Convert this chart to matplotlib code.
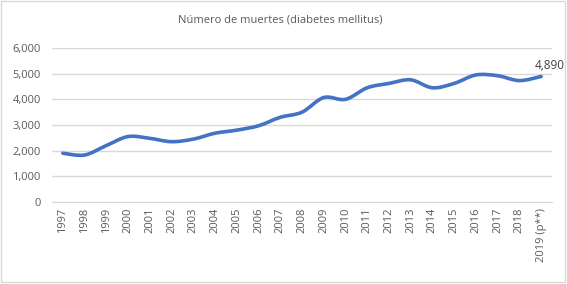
import matplotlib
matplotlib.use("Agg")
import matplotlib.pyplot as plt
import numpy as np
from matplotlib.path import Path
from matplotlib.patches import PathPatch, Rectangle

years = ["1997", "1998", "1999", "2000", "2001", "2002", "2003", "2004", "2005",
         "2006", "2007", "2008", "2009", "2010", "2011", "2012", "2013", "2014",
         "2015", "2016", "2017", "2018", "2019 (p**)"]
deaths = [1900, 1830, 2200, 2550, 2480, 2350, 2450, 2680, 2800, 2970, 3300, 3500,
          4070, 4000, 4450, 4620, 4760, 4450, 4620, 4950, 4920, 4730, 4890]
yticks = [0, 1000, 2000, 3000, 4000, 5000, 6000]
title = "Número de muertes (diabetes mellitus)"
last_label = "4,890"

plt.rcParams['font.family'] = ['Open Sans', 'DejaVu Sans']
fig = plt.figure(figsize=(5.67, 2.84), dpi=100)
ax = fig.add_axes([52/567, 1-202/284, (552-52)/567, (202-48)/284])

x = np.arange(len(years))
y = np.array(deaths, dtype=float)

# Smoothed line (Excel-style Bezier through points)
t = 1/6
verts = [(x[0], y[0])]
codes = [Path.MOVETO]
n = len(x)
for i in range(n-1):
    p0 = (x[i-1], y[i-1]) if i > 0 else (x[i], y[i])
    p1 = (x[i], y[i])
    p2 = (x[i+1], y[i+1])
    p3 = (x[i+2], y[i+2]) if i+2 < n else (x[i+1], y[i+1])
    c1 = (p1[0] + (p2[0]-p0[0])*t, p1[1] + (p2[1]-p0[1])*t)
    c2 = (p2[0] - (p3[0]-p1[0])*t, p2[1] - (p3[1]-p1[1])*t)
    verts += [c1, c2, p2]
    codes += [Path.CURVE4]*3
path = Path(verts, codes)
ax.add_patch(PathPatch(path, facecolor='none', edgecolor='#4472C4', lw=2.6,
                       capstyle='round', joinstyle='round', zorder=3))
ax.plot(x, y, alpha=0)

ax.set_xlim(-0.5, n-0.5)
ax.set_ylim(0, 6000)
ax.set_yticks(yticks)
ax.set_yticklabels([f"{v:,}" for v in yticks])
ax.set_xticks(x)
ax.set_xticklabels(years, rotation=90)
ax.grid(axis='y', color='#D9D9D9', lw=1)
ax.set_axisbelow(True)
for s in ['top', 'right', 'left']:
    ax.spines[s].set_visible(False)
ax.spines['bottom'].set_color('#D9D9D9')
ax.tick_params(axis='both', length=0, colors='#595959', labelsize=8)
ax.tick_params(axis='y', pad=8)
ax.tick_params(axis='x', pad=4)

ax.annotate(last_label, (x[-1], y[-1]), xytext=(6, 3), textcoords='offset points',
            ha='center', va='bottom', fontsize=8.5, color='#404040')

fig.text(280/567, 1-20/284, title, ha='center', va='center', fontsize=8, color='#595959')
fig.patches.append(Rectangle((0.002, 0.008), 0.994, 0.988, transform=fig.transFigure,
                             fill=False, edgecolor='#D9D9D9', lw=1))
fig.savefig("out.png", dpi=100)
